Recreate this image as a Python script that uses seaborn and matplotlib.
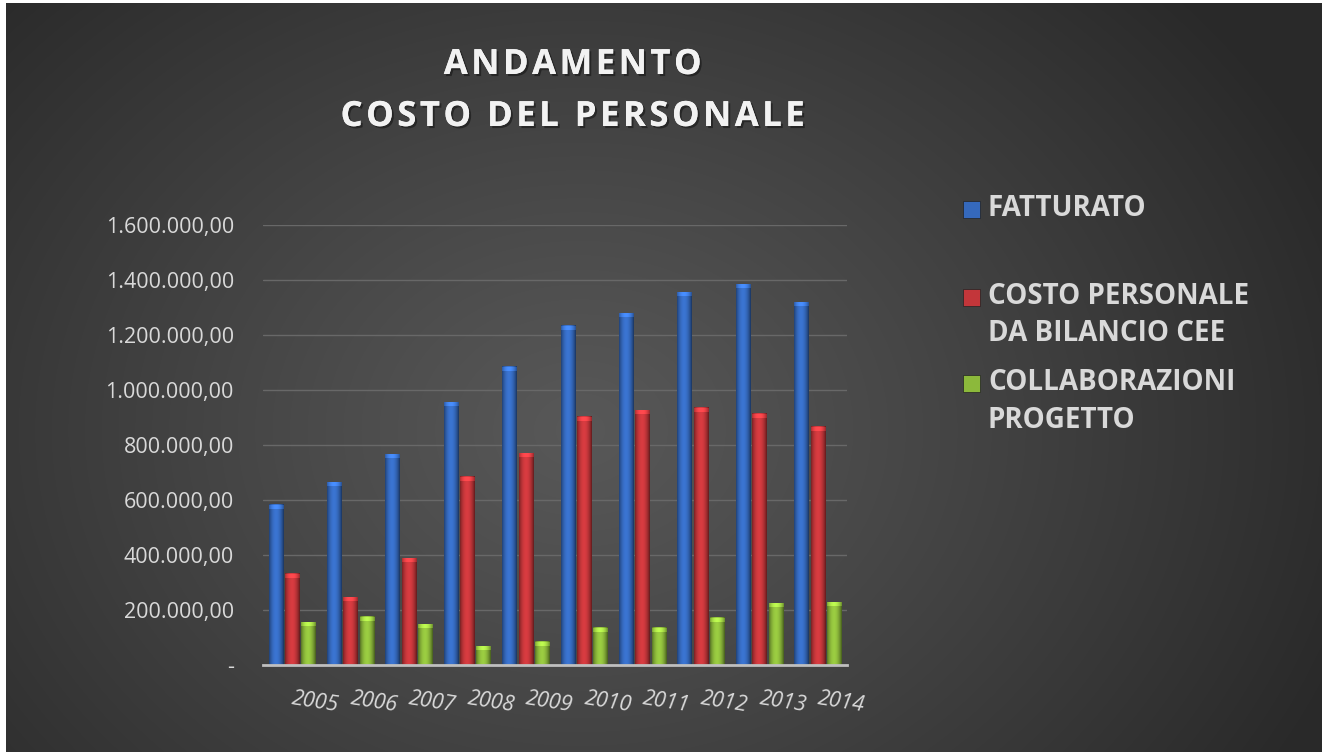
import numpy as np
import pandas as pd
import matplotlib
matplotlib.use("Agg")
import matplotlib.pyplot as plt
import matplotlib.patheffects as pe
from matplotlib.patches import Rectangle
from matplotlib.ticker import FuncFormatter
import seaborn as sns

# dati
anni = ["2005", "2006", "2007", "2008", "2009", "2010", "2011", "2012", "2013", "2014"]
fatturato = [582000, 665000, 767000, 956000, 1084000, 1233000, 1280000, 1356000, 1385000, 1320000]
costo_personale = [331000, 247000, 389000, 684000, 771000, 902000, 927000, 935000, 913000, 866000]
collaborazioni = [156000, 175000, 149000, 69000, 84000, 135000, 135000, 171000, 225000, 229000]
serie = ["FATTURATO", "COSTO PERSONALE\nDA BILANCIO CEE", "COLLABORAZIONI\nPROGETTO"]
colori = ["#3569bd", "#c3363a", "#8cb93b"]

df = pd.DataFrame({
    "Anno": anni * 3,
    "Valore": fatturato + costo_personale + collaborazioni,
    "Serie": [s for s in serie for _ in anni],
})

sns.set_theme(style="dark")
plt.rcParams['font.family'] = ['Open Sans', 'DejaVu Sans']

fig = plt.figure(figsize=(13.22, 7.52), dpi=100)

# ----- sfondo con sfumatura radiale -----
bg = fig.add_axes([0, 0, 1, 1])
bg.axis('off')
H, W = 752, 1322
yy, xx = np.mgrid[0:H, 0:W]
dist = np.hypot(xx - 580, (yy - 430) * 1.25)
g = (0x58 - (0x58 - 0x29) * np.clip(dist / 820, 0, 1) ** 1.1) / 255
img = np.dstack([g, g, g])
img[:, :6] = 1
img[:3, :] = 1
bg.imshow(img, extent=[0, 1, 0, 1], aspect='auto', origin='upper')
bg.set_xlim(0, 1)
bg.set_ylim(0, 1)

# ----- grafico a barre -----
ax = fig.add_axes([0.199, 0.1157, 0.4418, 0.585])
ax.set_facecolor('none')
sns.barplot(data=df, x="Anno", y="Valore", hue="Serie", palette=colori,
            width=0.84, gap=0.1, saturation=1, legend=False, linewidth=0, ax=ax)

# effetto cilindro sulle barre
t = np.linspace(0, 1, 40)
prof = 0.62 + 0.55 * np.sin(np.pi * t) ** 0.8 - 0.12 * t
for p in ax.patches:
    x0, w, h = p.get_x(), p.get_width(), p.get_height()
    if h <= 0:
        continue
    base = np.array(p.get_facecolor()[:3])
    grad = np.clip(base[None, :] * prof[:, None], 0, 1)[None, :, :]
    ax.imshow(grad, extent=[x0, x0 + w, 0, h], aspect='auto', zorder=p.get_zorder() + 0.1)
    cap = min(h, 14000)
    capc = np.clip(base[None, :] * (prof[:, None] + 0.25), 0, 1)[None, :, :]
    ax.imshow(capc, extent=[x0, x0 + w, h - cap, h], aspect='auto', zorder=p.get_zorder() + 0.2)

ax.set_xlim(-0.5, 9.5)
ax.set_ylim(0, 1600000)
ax.set_yticks(np.arange(0, 1600001, 200000))


def formato_it(v, pos):
    if v == 0:
        return "-"
    return f"{v:,.2f}".replace(",", "X").replace(".", ",").replace("X", ".")


ax.yaxis.set_major_formatter(FuncFormatter(formato_it))
ax.set_xticks(range(len(anni)))
ax.set_xticklabels(anni, rotation=-9, ha='left', va='center', rotation_mode='anchor',
                   fontstyle='italic', fontsize=15.5, color='#d9d9d9')
ax.tick_params(axis='x', length=0, pad=24)
ax.tick_params(axis='y', length=0, pad=21, labelsize=15.5, labelcolor='#d9d9d9')
ax.grid(axis='y', color='#686868', linewidth=1)
ax.grid(axis='x', visible=False)
ax.set_axisbelow(True)
for s in ['top', 'right', 'left']:
    ax.spines[s].set_visible(False)
ax.spines['bottom'].set_color('#bfbfbf')
ax.spines['bottom'].set_linewidth(2)
ax.set_xlabel("")
ax.set_ylabel("")

# ----- titolo (spaziatura lettere con hair space) -----
def spaziato(s):
    return "\u200a".join(s)


ombra = [pe.withSimplePatchShadow(offset=(1.5, -1.5), shadow_rgbFace='black', alpha=0.4), pe.Normal()]
fig.text(573 / W, 1 - 65 / H, spaziato("ANDAMENTO"), ha='center', va='center', fontsize=25,
         fontweight='bold', color='#f2f2f2', path_effects=ombra)
fig.text(573 / W, 1 - 117 / H, spaziato("COSTO DEL PERSONALE"), ha='center', va='center', fontsize=25,
         fontweight='bold', color='#f2f2f2', path_effects=ombra)

# ----- legenda -----
centri_quadrato = [209, 297, 383]
centri_testo = [209, 315, 401.5]
for nome, col, cq, ct in zip(serie, colori, centri_quadrato, centri_testo):
    fig.patches.append(Rectangle((963 / W, 1 - (cq + 8.5) / H), 17 / W, 17 / H,
                                 transform=fig.transFigure, facecolor=col,
                                 edgecolor='#222222', linewidth=0.5))
    fig.text(988 / W, 1 - ct / H, nome, ha='left', va='center', fontsize=20,
             fontweight='bold', color='#d9d9d9', linespacing=1.4)

fig.savefig("out.png", dpi=100)
